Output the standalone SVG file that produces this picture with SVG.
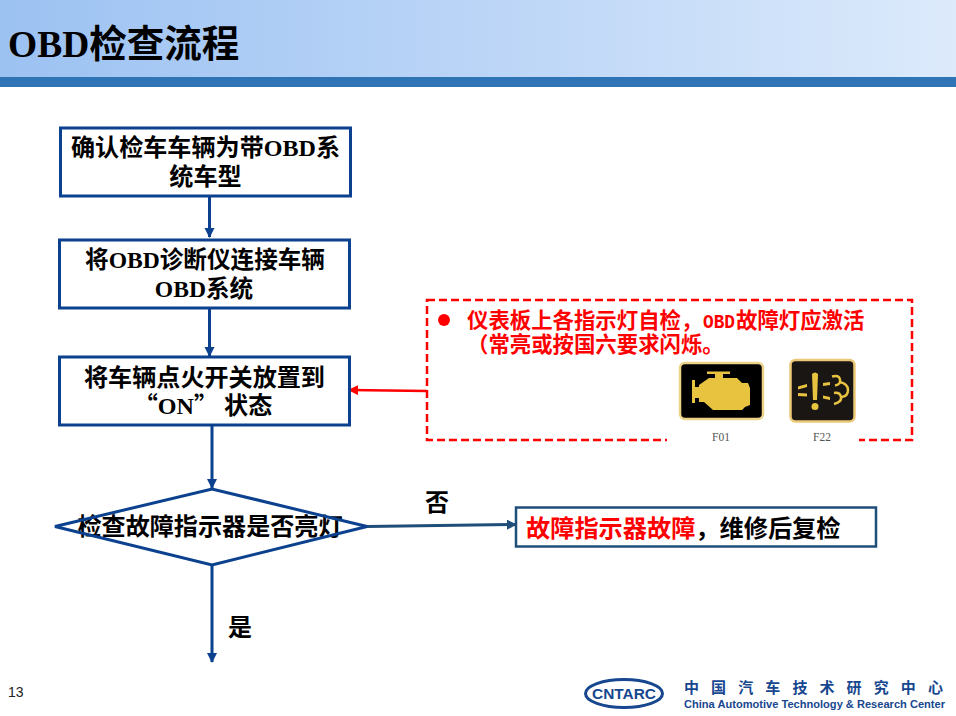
<svg xmlns="http://www.w3.org/2000/svg" width="956" height="716" viewBox="0 0 956 716">
<style>
.box{fill:#fff;stroke:#0B418E;stroke-width:3}
.t{font-family:"Liberation Serif","Noto Sans CJK SC",serif;font-weight:700;font-size:24.1px;fill:#000;text-anchor:middle}
.q{font-family:"Noto Sans CJK SC",sans-serif}
.c{fill:none;stroke:#0B418E;stroke-width:3}
.r{font-family:"Noto Sans CJK SC","Liberation Sans",sans-serif;font-weight:700;font-size:21.4px;fill:#f00}
.m{font-family:"Liberation Serif",serif;font-size:11.5px;fill:#555;text-anchor:middle}
.ic{fill:#E7C33F}
.ics{fill:none;stroke:#E7C33F;stroke-width:2.500}
</style>
<defs>
<linearGradient id="hd" x1="0" y1="0" x2="1" y2="0"><stop offset="0" stop-color="#9CC2F2"/><stop offset=".5" stop-color="#BBD5F7"/><stop offset="1" stop-color="#DCEAFB"/></linearGradient>
<marker id="a" viewBox="0 0 10 10" refX="9" refY="5" markerWidth="3.4" markerHeight="3.4" orient="auto"><path d="M0 0L10 5L0 10z" fill="#0B418E"/></marker>
<marker id="ar" viewBox="0 0 10 10" refX="9" refY="5" markerWidth="4" markerHeight="4" orient="auto"><path d="M0 0L10 5L0 10z" fill="#f00"/></marker>
<marker id="ag" viewBox="0 0 10 10" refX="9" refY="5" markerWidth="3.4" markerHeight="3.4" orient="auto"><path d="M0 0L10 5L0 10z" fill="#1F4E79"/></marker>
</defs>
<g id="header">
<rect width="956" height="77" fill="url(#hd)"/>
<rect y="77" width="956" height="10" fill="#2F75B5"/>
<text x="8" y="57" font-family="'Liberation Serif','Noto Sans CJK SC',serif" font-weight="700" font-size="37.5">OBD检查流程</text>
</g>
<g id="connectors">
<path class="c" d="M209.500 196V237" marker-end="url(#a)"/>
<path class="c" d="M209.500 308V356" marker-end="url(#a)"/>
<path class="c" d="M212 426V488" marker-end="url(#a)"/>
<path class="c" d="M212 566V662" marker-end="url(#a)"/>
<path d="M367 526.500L516 524.500" fill="none" stroke="#1F4E79" stroke-width="3" marker-end="url(#ag)"/>
<path d="M427 391L349 390" fill="none" stroke="#f00" stroke-width="2.500" marker-end="url(#ar)"/>
</g>
<g id="n1"><rect class="box" x="60.500" y="128" width="290" height="68"/>
<text class="t" x="205.500" y="156">确认检车车辆为带OBD系</text><text class="t" x="205.500" y="185">统车型</text></g>
<g id="n2"><rect class="box" x="59.500" y="240" width="290" height="68"/>
<text class="t" x="205" y="268" style="font-size:23.6px">将OBD诊断仪连接车辆</text><text class="t" x="204" y="297" style="font-size:23.6px">OBD系统</text></g>
<g id="n3"><rect class="box" x="59.500" y="357" width="290" height="68"/>
<text class="t" x="204.500" y="386">将车辆点火开关放置到</text><text class="t" x="203" y="414"><tspan class="q">“</tspan>ON<tspan class="q">”</tspan> 状态</text></g>
<g id="n4"><path d="M55 526.500L212 489L367 526.500L212 565z" fill="#fff"/>
<text class="t" x="210" y="535">检查故障指示器是否亮灯</text>
<path class="box" style="fill:none" d="M55 526.500L212 489L367 526.500L212 565z"/></g>
<g id="n5"><rect x="516" y="507.500" width="360" height="39" fill="#fff" stroke="#1F4E79" stroke-width="2.500"/>
<text x="526" y="537" font-family="'Noto Sans CJK SC',sans-serif" font-weight="700" font-size="24.200" fill="#f00">故障指示器故障<tspan fill="#000">，维修后复检</tspan></text></g>
<g id="note">
<rect x="427" y="300" width="485" height="140" fill="#fff" stroke="#f00" stroke-width="2.500" stroke-dasharray="8 4"/>
<circle cx="444" cy="320" r="6" fill="#f00"/>
<text class="r" x="467" y="328">仪表板上各指示灯自检，</text>
<text x="703" y="328" font-family="'Liberation Mono',monospace" font-weight="700" font-size="21" fill="#f00" textLength="32" lengthAdjust="spacingAndGlyphs">OBD</text>
<text class="r" x="736" y="328">故障灯应激活</text>
<text class="r" x="467" y="352">（常亮或按国六要求闪烁。</text>
<rect x="667" y="358" width="192" height="90" fill="#fff"/>
</g>
<g id="icon-f01">
<rect x="680" y="363" width="83" height="56" rx="5" fill="#000" stroke="#EBD488" stroke-width="2.500"/>
<path class="ic" d="M692 380H695V387H699V385L709 378H715V374H707V371.500H730V374H723V378H737L742 383H748L750 388V405L745 407L742 410H713L704 402H699V398H695V403H692Z"/>
<text class="m" x="721" y="441">F01</text>
</g>
<g id="icon-f22">
<rect x="790.500" y="360" width="64" height="61.500" rx="5" fill="#1a1614" stroke="#EBC878" stroke-width="2.500"/>
<g class="ic">
<path d="M812 374q3-3 6 0l-1 26h-4z"/><circle cx="815" cy="406.500" r="3.500"/>
<path d="M798 386.500l9-2.500v3l-9 2.500zM798 393l9 .5v3l-9-.5z"/>
<path d="M823 383l7-1v3l-7 1zM823 395.500l7 1.500v3l-7-1.500z"/>
</g>
<path class="ics" d="M832 376.500q7-2 8 3t-5 6M840 382q8 2 8 8t-6 7M834 393q6-1 7 4t-7 7"/>
<text class="m" x="822" y="441">F22</text>
</g>
<g id="labels">
<text x="425" y="511" font-family="'Noto Sans CJK SC',sans-serif" font-weight="700" font-size="24">否</text>
<text x="228" y="636" font-family="'Noto Sans CJK SC',sans-serif" font-weight="700" font-size="24">是</text>
<text x="8" y="697" font-family="'Liberation Sans',sans-serif" font-size="14" fill="#222">13</text>
</g>
<g id="logo">
<ellipse cx="624" cy="693.500" rx="38.500" ry="14" fill="#fff" stroke="#17478F" stroke-width="3"/>
<text x="624" y="699" text-anchor="middle" font-family="'Liberation Sans',sans-serif" font-weight="700" font-size="15" textLength="64" lengthAdjust="spacingAndGlyphs" fill="#17478F">CNTARC</text>
<text x="684" y="693" font-family="'Noto Sans CJK SC',sans-serif" font-weight="700" font-size="15" letter-spacing="12.100" fill="#17478F">中国汽车技术研究中心</text>
<text x="684" y="708" font-family="'Liberation Sans',sans-serif" font-weight="700" font-size="11.500" textLength="261" lengthAdjust="spacingAndGlyphs" fill="#17478F">China Automotive Technology &amp; Research Center</text>
</g>
</svg>
